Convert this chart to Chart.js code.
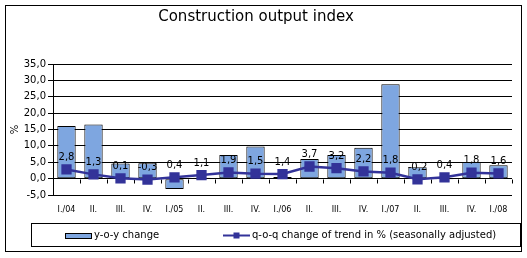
<!DOCTYPE html>
<html>
<head>
<meta charset="utf-8">
<script src="https://cdn.jsdelivr.net/npm/chart.js@4/dist/chart.umd.min.js"></script>
<style>
  body { margin: 0; background: #fff; font-family: "DejaVu Sans", sans-serif; }
  #wrap { position: relative; width: 527px; height: 258px; }
  #frame { position: absolute; left: 5px; top: 5px; width: 515px; height: 245px; border: 1px solid #000; }
  canvas { position: absolute; left: 0; top: 0; }
  #legend { position: absolute; left: 31px; top: 223px; width: 488px; height: 22px; border: 1px solid #000; font-size: 10px; }
  .item { position: absolute; top: 0; height: 22px; line-height: 22px; white-space: nowrap; }
  .sw { position: absolute; top: 9px; }
  .txt { position: absolute; top: 0; }
</style>
</head>
<body>
<div id="wrap">
  <div id="frame"></div>
  <canvas id="chart" width="527" height="258"></canvas>
  <div id="legend"></div>
</div>
<script>
const quarters = ['I./04', 'II.', 'III.', 'IV.', 'I./05', 'II.', 'III.', 'IV.', 'I./06', 'II.', 'III.', 'IV.', 'I./07', 'II.', 'III.', 'IV.', 'I./08'];
const yoyChange = [16.1, 16.5, 4.6, 4.7, -3.2, 0.3, 7.2, 9.8, 0.5, 6.0, 7.2, 9.4, 28.8, 3.5, -0.3, 5.1, 4.1];
const qoqTrend = [2.8, 1.3, 0.1, -0.3, 0.4, 1.1, 1.9, 1.5, 1.4, 3.7, 3.2, 2.2, 1.8, -0.2, 0.4, 1.8, 1.6];
const seriesNames = ['y-o-y change', 'q-o-q change of trend in % (seasonally adjusted)'];

const barColor = '#7ea6e0';
const lineColor = '#333399';
const fmt = v => v.toFixed(1).replace('.', ',');

// small tick marks on the zero line between categories
const zeroTicks = {
    id: 'zeroTicks',
    beforeDatasetsDraw(chart) {
        const x = chart.scales.x, y = chart.scales.y;
        const zy = Math.round(y.getPixelForValue(0)) + 0.5;
        const step = x.getPixelForValue(1) - x.getPixelForValue(0);
        const c = chart.ctx;
        c.save();
        c.strokeStyle = '#000';
        c.lineWidth = 1;
        c.beginPath();
        for (let i = 0; i <= quarters.length; i++) {
            const px = Math.round(x.getPixelForValue(i) - step / 2) + 0.5;
            c.moveTo(px, zy);
            c.lineTo(px, zy + 4);
        }
        c.stroke();
        c.restore();
    }
};

// value labels above the trend line points
const pointLabels = {
    id: 'pointLabels',
    afterDatasetsDraw(chart) {
        const meta = chart.getDatasetMeta(1);
        const c = chart.ctx;
        c.save();
        c.font = '10px "DejaVu Sans"';
        c.fillStyle = '#000';
        c.textAlign = 'center';
        c.textBaseline = 'middle';
        meta.data.forEach((pt, i) => {
            c.fillText(fmt(qoqTrend[i]), pt.x, pt.y - 12);
        });
        c.restore();
    }
};

const chart = new Chart(document.getElementById('chart'), {
    data: {
        labels: quarters,
        datasets: [
            {
                type: 'bar',
                label: seriesNames[0],
                data: yoyChange,
                backgroundColor: barColor,
                borderColor: '#000',
                borderWidth: 1,
                borderSkipped: false,
                barPercentage: 0.68,
                categoryPercentage: 1,
                order: 1
            },
            {
                type: 'line',
                label: seriesNames[1],
                data: qoqTrend,
                borderColor: lineColor,
                backgroundColor: lineColor,
                borderWidth: 2.5,
                pointStyle: 'rect',
                pointRadius: 5.5,
                tension: 0,
                order: 0
            }
        ]
    },
    options: {
        responsive: false,
        animation: false,
        layout: { padding: { left: 0, right: 15, top: 0, bottom: 33 } },
        scales: {
            x: {
                offset: true,
                grid: { display: false },
                border: { display: false },
                ticks: {
                    color: '#000',
                    font: { family: 'DejaVu Sans', size: 8 },
                    autoSkip: false,
                    maxRotation: 0,
                    padding: 2
                },
                afterFit: s => { s.height = 30; }
            },
            y: {
                min: -5,
                max: 35,
                ticks: {
                    stepSize: 5,
                    color: '#000',
                    font: { family: 'DejaVu Sans', size: 10 },
                    padding: 2,
                    callback: v => fmt(v)
                },
                grid: { color: '#000', lineWidth: 1, tickLength: 5 },
                border: { display: true, color: '#000' },
                title: {
                    display: true,
                    text: '%',
                    color: '#000',
                    font: { family: 'DejaVu Sans', size: 10 },
                    padding: { top: 9, bottom: 0 }
                },
                afterFit: s => { s.width = 53; }
            }
        },
        plugins: {
            legend: { display: false },
            tooltip: { enabled: false },
            title: {
                display: true,
                text: 'Construction output index',
                color: '#000',
                font: { family: 'DejaVu Sans', size: 15, weight: 'normal' },
                padding: { top: 8.5, bottom: 37.5 }
            }
        }
    },
    plugins: [zeroTicks, pointLabels]
});

// legend box built from the datasets
const legend = document.getElementById('legend');
const legendPos = [[33, 27, 60], [191, 27, 220]];
chart.data.datasets.forEach((ds, i) => {
    const item = document.createElement('div');
    item.className = 'item';
    item.style.left = legendPos[i][0] + 'px';
    const sw = document.createElement('canvas');
    sw.className = 'sw';
    sw.width = legendPos[i][1];
    sw.height = 7;
    sw.style.top = '8px';
    const c = sw.getContext('2d');
    if (ds.type === 'bar') {
        c.fillStyle = ds.backgroundColor;
        c.fillRect(0.5, 1.5, sw.width - 1, 5);
        c.strokeStyle = '#000';
        c.lineWidth = 1;
        c.strokeRect(0.5, 1.5, sw.width - 1, 5);
    } else {
        c.strokeStyle = ds.borderColor;
        c.lineWidth = 2;
        c.beginPath();
        c.moveTo(0, 3.5);
        c.lineTo(sw.width, 3.5);
        c.stroke();
        c.fillStyle = ds.borderColor;
        c.fillRect(sw.width / 2 - 3, 0.5, 6, 6);
    }
    item.appendChild(sw);
    const t = document.createElement('span');
    t.className = 'txt';
    t.style.left = (legendPos[i][1] + 2) + 'px';
    t.textContent = ds.label;
    item.appendChild(t);
    legend.appendChild(item);
});
</script>
</body>
</html>
